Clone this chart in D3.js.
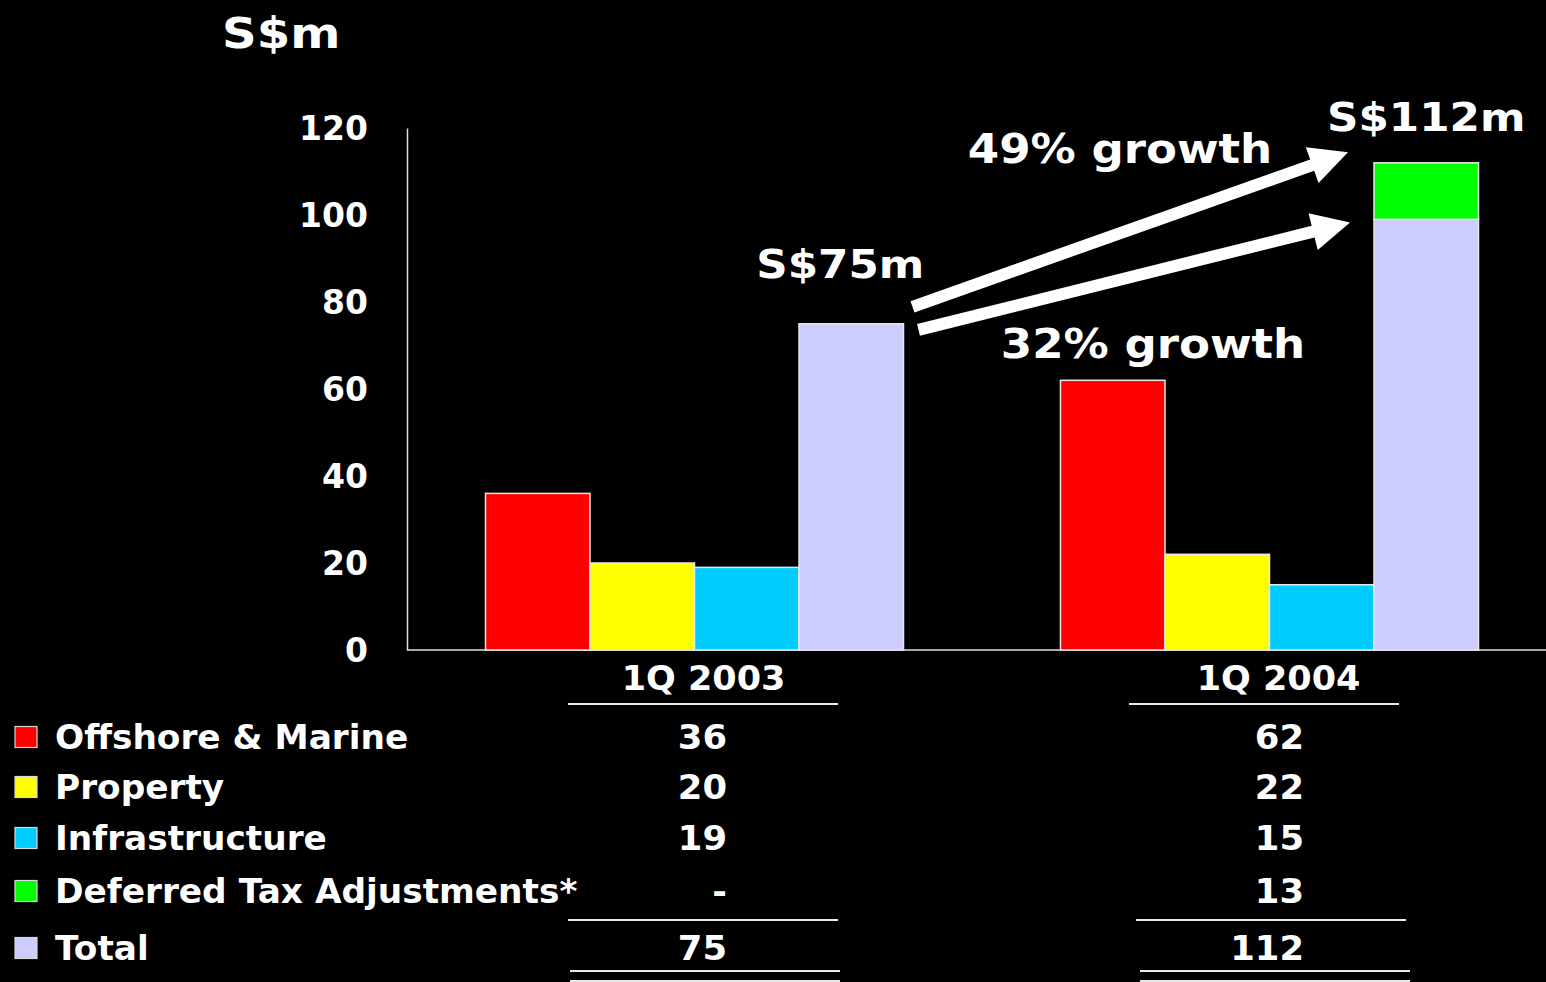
<!DOCTYPE html>
<html>
<head>
<meta charset="utf-8">
<script src="https://cdn.jsdelivr.net/npm/d3@7/dist/d3.min.js"></script>
<style>
  html, body { margin: 0; padding: 0; background: #000; }
  svg { display: block; }
  text { font-family: "DejaVu Sans", Verdana, sans-serif; font-weight: bold; fill: #fff; }
</style>
</head>
<body>
<svg id="chart" width="1546" height="982"></svg>
<script>
// Operating profit by division, S$ million
const categories = ["1Q 2003", "1Q 2004"];
const seriesNames = ["Offshore & Marine", "Property", "Infrastructure", "Deferred Tax Adjustments*", "Total"];
const offshore = [36, 62];
const property = [20, 22];
const infrastructure = [19, 15];
const deferredTax = [0, 13];
const totals = [75, 112];
const seriesColors = ["#ff0000", "#ffff00", "#00ccff", "#00ff00", "#ccccff"];
const yTicks = [0, 20, 40, 60, 80, 100, 120];
const totalLabels = ["S$75m", "S$112m"];
// growth arrows: start / end level on the value axis
const growthLabels = ["49% growth", "32% growth"];
const arrowFrom = [78.9, 73.6];
const arrowTo = [114.4, 98.3];

const svg = d3.select("#chart");
const W = 1546, H = 982;
svg.append("rect").attr("width", W).attr("height", H).attr("fill", "#000");

const SX = 1.08; // glyph widening of the slide fonts
function label(g, x, y, str, size, anchor, sx) {
  return g.append("text")
    .attr("transform", `translate(${x},${y}) scale(${sx == null ? SX : sx},1)`)
    .attr("text-anchor", anchor || "start")
    .attr("font-size", size)
    .text(str);
}

const y = d3.scaleLinear().domain([0, 120]).range([650, 128]);
const x0 = d3.scaleBand().domain(categories).range([407, 1557])
  .paddingInner(0.273).paddingOuter(0.1365);
const slots = ["offshore", "property", "infrastructure", "total"];
const x1 = d3.scaleBand().domain(slots).range([0, x0.bandwidth()]);

// title
label(svg, 222, 48, "S$m", 43, "start", 1.12);

// y axis
const yAxis = svg.append("g").attr("transform", "translate(407,0)")
  .call(d3.axisLeft(y).tickValues(yTicks).tickSize(0).tickSizeOuter(0).tickPadding(39));
yAxis.select(".domain").attr("stroke", "#e0e0e0").attr("stroke-width", 1.5);
yAxis.selectAll("text").attr("font-size", 33).attr("dy", "0.36em")
  .style("font-family", "'DejaVu Sans', Verdana, sans-serif").style("font-weight", "bold").attr("fill", "#fff");

// x axis line
svg.append("line").attr("x1", 407).attr("x2", W).attr("y1", y(0)).attr("y2", y(0))
  .attr("stroke", "#e0e0e0").attr("stroke-width", 1.5);

// bars
const bars = [];
categories.forEach((c, i) => {
  bars.push({ c, slot: "offshore", y0: 0, y1: offshore[i], color: seriesColors[0] });
  bars.push({ c, slot: "property", y0: 0, y1: property[i], color: seriesColors[1] });
  bars.push({ c, slot: "infrastructure", y0: 0, y1: infrastructure[i], color: seriesColors[2] });
  const base = totals[i] - deferredTax[i];
  bars.push({ c, slot: "total", y0: 0, y1: base, color: seriesColors[4] });
  if (deferredTax[i] > 0) bars.push({ c, slot: "total", y0: base, y1: totals[i], color: seriesColors[3] });
});
svg.append("g").selectAll("rect").data(bars).join("rect")
  .attr("x", d => x0(d.c) + x1(d.slot))
  .attr("width", x1.bandwidth())
  .attr("y", d => y(d.y1))
  .attr("height", d => y(d.y0) - y(d.y1))
  .attr("fill", d => d.color)
  .attr("stroke", "#e8e8e8").attr("stroke-width", 1.5);

// total labels above the total bars
categories.forEach((c, i) => {
  const cx = x0(c) + x1("total") + x1.bandwidth() / 2;
  label(svg, cx - (i === 0 ? 11 : 0), y(totals[i]) - (i === 0 ? 46 : 32), totalLabels[i], 39, "middle", 1.12);
});

// growth arrows
function arrowPath(xa, ya, xb, yb) {
  const dx = xb - xa, dy = yb - ya, len = Math.hypot(dx, dy);
  const ux = dx / len, uy = dy / len, nx = -uy, ny = ux;
  const sw = 6, hw = 19, hl = 38;
  const bx = xb - ux * hl, by = yb - uy * hl;
  const pts = [
    [xa + nx * sw, ya + ny * sw], [bx + nx * sw, by + ny * sw], [bx + nx * hw, by + ny * hw],
    [xb, yb], [bx - nx * hw, by - ny * hw], [bx - nx * sw, by - ny * sw], [xa - nx * sw, ya - ny * sw]
  ];
  return "M" + pts.map(p => p.join(",")).join("L") + "Z";
}
const tailX = x0(categories[0]) + x1("total") + x1.bandwidth();
const tipX = x0(categories[1]) + x1("total");
const arrowTail = [9, 15];
const arrowTip = [26, 24];
growthLabels.forEach((g, i) => {
  svg.append("path")
    .attr("d", arrowPath(tailX + arrowTail[i], y(arrowFrom[i]), tipX - arrowTip[i], y(arrowTo[i])))
    .attr("fill", "#fff");
});
label(svg, 1120, 163, growthLabels[0], 41, "middle", 1.1);
label(svg, 1153, 358, growthLabels[1], 41, "middle", 1.1);

// category headers
const colCenter = categories.map(c => x0(c) + x0.bandwidth() / 2);
categories.forEach((c, i) => label(svg, colCenter[i] + 9, 690, c, 34, "middle", 1.03));

// table rows with legend swatches
const rowBase = [749, 799, 850, 903, 960];
const rowValues = [offshore, property, infrastructure, deferredTax, totals];
const valueRight = [727, 1304];
seriesNames.forEach((name, r) => {
  const cy = rowBase[r] - 12;
  svg.append("rect").attr("x", 15).attr("y", cy - 10.5).attr("width", 22).attr("height", 21)
    .attr("fill", seriesColors[r]).attr("stroke", "#d8d8d8").attr("stroke-width", 1.2);
  label(svg, 55, rowBase[r], name, 34, "start", 1.01);
  categories.forEach((c, i) => {
    const v = rowValues[r][i];
    label(svg, valueRight[i], rowBase[r], v === 0 ? "-" : String(v), 34, "end", 1.04);
  });
});

// table rules
const rules = [
  [568, 838, 704], [1129, 1399, 704],
  [568, 838, 920], [1136, 1406, 920],
  [570, 840, 971], [1140, 1410, 971],
  [570, 840, 981], [1140, 1410, 981]
];
svg.append("g").selectAll("line").data(rules).join("line")
  .attr("x1", d => d[0]).attr("x2", d => d[1])
  .attr("y1", d => d[2]).attr("y2", d => d[2])
  .attr("stroke", "#e8e8e8").attr("stroke-width", 2);
</script>
</body>
</html>
